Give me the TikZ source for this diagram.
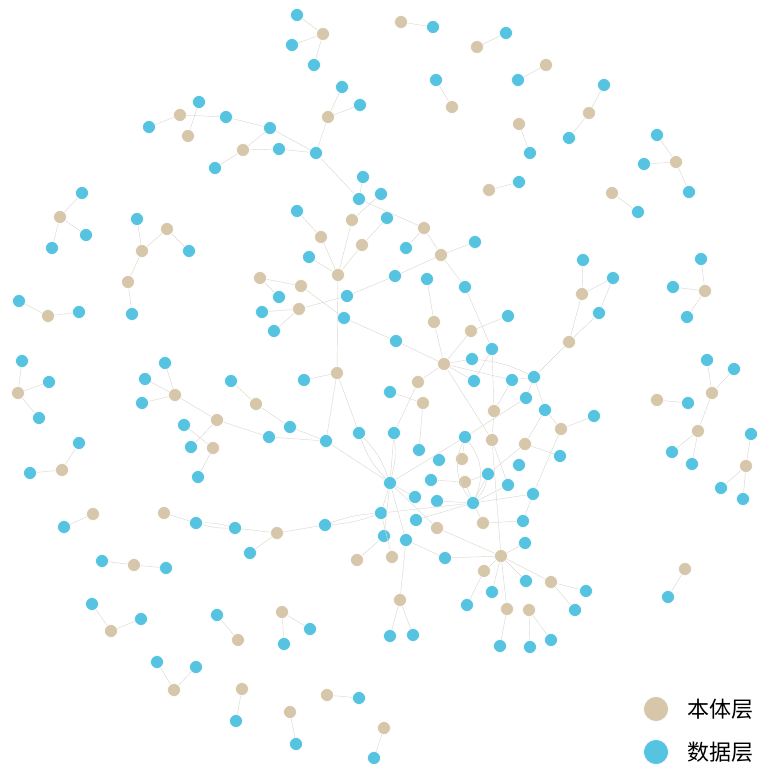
\documentclass[tikz,border=0pt]{standalone}
\usepackage{fontspec}
\newfontfamily\cjk{Noto Sans CJK SC}
\definecolor{onto}{RGB}{215,199,170}
\definecolor{data}{RGB}{86,195,225}
\definecolor{edgec}{RGB}{218,216,212}
\tikzset{
  bn/.style={circle,fill=onto,draw=white,line width=0.6pt,minimum size=13pt,inner sep=0pt},
  cn/.style={circle,fill=data,draw=white,line width=0.6pt,minimum size=13pt,inner sep=0pt},
  ed/.style={draw=edgec,line width=0.45pt},
  legtext/.style={anchor=west,font=\cjk\fontsize{22}{24}\selectfont,text=black}
}
\begin{document}
\begin{tikzpicture}[x=1pt,y=-1pt]
\useasboundingbox (0,0) rectangle (761,765);
% beige nodes
\foreach \n/\x/\y in {b1/323/34,b2/401/22,b3/477/47,b4/546/65,b5/589/113,b6/519/124,b7/452/107,b8/676/162,b9/612/193,b10/489/190,
b11/180/115,b12/188/136,b13/243/150,b14/328/117,b15/60/217,b16/142/251,b17/167/229,b18/128/282,b19/48/316,b20/18/393,
b21/62/470,b22/175/395,b23/256/404,b24/217/420,b25/213/448,b26/352/220,b27/321/237,b28/362/245,b29/424/228,b30/441/255,
b31/338/275,b32/260/278,b33/301/286,b34/299/309,b35/434/322,b36/471/331,b37/444/364,b38/337/373,b39/418/382,b40/423/403,
b41/494/411,b42/492/440,b43/462/459,b44/465/482,b45/582/294,b46/569/342,b47/561/429,b48/525/444,b49/705/291,b50/712/393,
b51/657/400,b52/698/431,b53/746/466,b54/93/514,b55/164/513,b56/277/533,b57/134/565,b58/111/631,b59/238/640,b60/174/690,
b61/242/689,b62/282/612,b63/327/695,b64/290/712,b65/384/728,b66/400/600,b67/357/560,b68/392/557,b69/437/528,b70/483/523,
b71/501/556,b72/484/571,b73/507/609,b74/529/610,b75/551/582,b76/685/569}
  \node[bn] (\n) at (\x,\y) {};
% blue nodes
\foreach \n/\x/\y in {c1/297/15,c2/292/45,c3/314/65,c4/433/27,c5/506/33,c6/518/80,c7/604/85,c8/569/138,c9/530/153,c10/436/80,
c11/657/135,c12/644/164,c13/689/192,c14/638/212,c15/519/182,c16/199/102,c17/149/127,c18/226/117,c19/215/168,c20/270/128,
c21/279/149,c22/316/153,c23/342/87,c24/360/105,c25/363/177,c26/359/199,c27/381/194,c28/297/211,c29/387/218,c30/406/248,
c31/475/242,c32/82/193,c33/86/235,c34/52/248,c35/137/219,c36/189/251,c37/132/314,c38/19/301,c39/79/312,c40/22/361,
c41/49/382,c42/39/418,c43/79/443,c44/30/473,c45/165/363,c46/145/379,c47/142/403,c48/231/381,c49/184/425,c50/191/447,
c51/198/477,c52/309/257,c53/395/276,c54/427/279,c55/465/287,c56/279/297,c57/347/296,c58/262/312,c59/274/331,c60/344/318,
c61/396/341,c62/508/316,c63/492/349,c64/472/359,c65/474/381,c66/512/380,c67/534/377,c68/304/380,c69/390/392,c70/290/427,
c71/269/437,c72/326/441,c73/359/433,c74/394/433,c75/465/437,c76/419/450,c77/439/460,c78/488/474,c79/431/480,c80/390/483,
c81/508/485,c82/415/497,c83/437/501,c84/473/503,c85/381/513,c86/416/520,c87/384/536,c88/406/540,c89/526/398,c90/545/410,
c91/594/416,c92/560/456,c93/519/465,c94/533/494,c95/523/521,c96/525/543,c97/583/260,c98/613/278,c99/599/313,c100/701/259,
c101/673/287,c102/687/317,c103/707/360,c104/734/369,c105/688/403,c106/672/452,c107/692/464,c108/751/434,c109/721/488,c110/743/499,
c111/64/527,c112/196/523,c113/235/528,c114/250/553,c115/325/525,c116/102/561,c117/166/568,c118/92/604,c119/141/619,c120/217/615,
c121/157/662,c122/196/667,c123/236/721,c124/310/629,c125/284/644,c126/359/698,c127/296/744,c128/374/758,c129/390/636,c130/413/635,
c131/445/558,c132/492/592,c133/467/605,c134/500/646,c135/530/647,c136/551/640,c137/526/581,c138/586/591,c139/575/610,c140/668/597}
  \node[cn] (\n) at (\x,\y) {};
% straight edges
\foreach \a/\b in {b1/c1,b1/c2,b1/c3,b2/c4,b3/c5,b4/c6,c7/b5,b5/c8,b6/c9,c10/b7,c11/b8,c12/b8,b8/c13,b9/c14,b10/c15,
c16/b12,b11/c17,b11/c18,c18/c20,b13/c19,b13/c20,b13/c21,c20/c22,c21/c22,c22/b14,b14/c23,b14/c24,c22/c26,c25/c26,c27/b26,
b26/b31,c26/b29,c28/b27,b27/b31,c29/b28,b28/b31,b29/c30,b29/b30,b30/c31,b30/c53,b30/c55,c52/b31,b31/b38,c57/c53,b33/c60,
b34/c57,b32/b33,b32/c56,b34/c58,b34/c59,c54/b35,b35/b37,b36/b37,b36/c62,c55/c63,c60/c61,c61/b37,b37/c64,b37/c65,b37/b39,
b37/c66,c63/c65,c63/b41,b41/b42,c66/c67,b46/c67,b45/c97,b45/c98,c98/c99,c99/b46,b45/b46,
c32/b15,b15/c33,b15/c34,c35/b16,b16/b17,b17/c36,b18/b16,b18/c37,c38/b19,b19/c39,c40/b20,c41/b20,b20/c42,c43/b21,b21/c44,
c45/b22,c46/b22,c47/b22,b22/b24,c48/b23,b23/c70,c70/c72,c71/c72,b24/c71,b24/c50,c49/b25,b25/c51,c72/c80,
b38/c68,b38/c72,b38/c73,b40/c69,b39/c74,b40/c76,b37/b42,c66/b41,c89/c75,b48/c78,b42/b71,b42/c81,c75/c80,
c100/b49,c101/b49,b49/c102,c103/b50,c104/b50,b50/b52,b51/c105,b52/c106,b52/c107,c108/b53,b53/c109,b53/c110,b76/c140,
b54/c111,b55/c112,c113/b56,b56/c114,b56/c115,c116/b57,b57/c117,c118/b58,b58/c119,c120/b59,c121/b60,b60/c122,b61/c123,
b62/c124,b62/c125,b63/c126,b64/c127,b65/c128,b66/c129,b66/c130,b66/c88,c87/b67,
c88/c131,c131/b71,b71/b72,b72/c133,b71/c132,b71/b73,b73/c134,b74/c135,b74/c136,b71/b75,b75/c138,b75/c139,b71/c137,
b47/c91,b48/c92,b47/c94,c90/b48,c90/b47,c67/c89,c67/c90,c78/c84,b44/c84,c79/b44,c78/b44,
c80/c74,c80/c85,c80/c87,c80/c88,c80/c82,c80/b69,c84/b70,c84/c81,c84/c94,c84/c85,c84/c86,c84/c83,
c95/c94,c96/b71,b70/c95,c85/b68,b69/b71,b43/c75}
  \draw[ed] (\a) -- (\b);
% curved double edges
\draw[ed] (c112) to[bend left=8] (c113);
\draw[ed] (c112) to[bend right=8] (c113);
\draw[ed] (c115) to[bend left=8] (c85);
\draw[ed] (c115) to[bend right=8] (c85);
\draw[ed] (c73) to[bend left=12] (c80);
\draw[ed] (c73) to[bend right=12] (c80);
\draw[ed] (c74) to[bend left=10] (c80);
\draw[ed] (c64) to[bend left=10] (c67);
\draw[ed] (c75) to[bend right=30] (c84);
\draw[ed] (c75) to[bend left=30] (c84);
\draw[ed] (c78) to[bend left=15] (c84);
% legend
\node[bn,minimum size=25pt] (lg1) at (656,709) {};
\node[cn,minimum size=25pt] (lg2) at (656,752) {};
\node[legtext] (lt1) at (684,709) {本体层};
\node[legtext] (lt2) at (684,752) {数据层};
\end{tikzpicture}
\end{document}
